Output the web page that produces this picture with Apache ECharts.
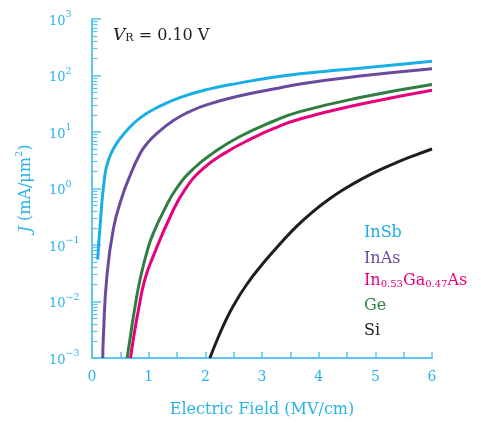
<!DOCTYPE html>
<html><head><meta charset="utf-8">
<script src="https://cdn.jsdelivr.net/npm/echarts@6/dist/echarts.min.js"></script>
<style>html,body{margin:0;padding:0;background:#fff}#c{width:481px;height:423px}</style>
</head><body><div id="c"></div>
<script>
// Data (x: Electric Field MV/cm, y: J mA/um^2)
const xInSb = [0.10, 0.12, 0.15, 0.18, 0.20, 0.23, 0.26, 0.32, 0.41, 0.59, 0.85, 1.2, 1.55, 2.02, 2.61, 3.2, 3.67, 4.73, 6.0];
const yInSb = [0.055, 0.11, 0.27, 0.66, 1.0, 1.78, 2.51, 3.8, 5.75, 10, 17.8, 28.8, 40.7, 56.2, 74.1, 93.3, 107, 135, 178];
const xInAs = [0.19, 0.20, 0.26, 0.38, 0.53, 0.65, 0.85, 1.0, 1.14, 1.43, 1.7, 2.02, 2.61, 3.2, 3.67, 4.73, 6.0];
const yInAs = [0.001, 0.0023, 0.026, 0.2, 0.71, 1.5, 4.17, 6.76, 9.33, 15.8, 22.4, 30.2, 43.7, 57.5, 70.8, 97.7, 132];
const xInGaAs = [0.68, 0.74, 0.82, 0.93, 1.08, 1.38, 1.64, 1.96, 2.35, 2.85, 3.2, 3.67, 4.73, 6.0];
const yInGaAs = [0.001, 0.0025, 0.0071, 0.024, 0.063, 0.316, 0.955, 2.24, 4.27, 7.94, 11.5, 17, 30.9, 55];
const xGe = [0.62, 0.68, 0.75, 0.85, 0.99, 1.1, 1.26, 1.49, 1.79, 2.14, 2.61, 3.2, 3.67, 4.73, 6.0];
const yGe = [0.001, 0.0025, 0.0071, 0.025, 0.089, 0.178, 0.39, 1.0, 2.24, 4.27, 8.32, 15.5, 22.9, 40.7, 69.2];
const xSi = [2.08, 2.2, 2.32, 2.49, 2.73, 3.02, 3.32, 3.61, 3.91, 4.20, 4.49, 4.79, 5.08, 5.37, 5.67, 6.0];
const ySi = [0.001, 0.002, 0.00377, 0.00824, 0.02, 0.0475, 0.105, 0.214, 0.398, 0.665, 1.03, 1.53, 2.14, 2.87, 3.78, 5.0];

const seriesNames = ['InSb', 'InAs', 'In0.53Ga0.47As', 'Ge', 'Si'];
const seriesColors = ['#1aaee6', '#6b4a9e', '#e6007e', '#2f7d3f', '#1e1e1e'];
const xTickLabels = ['0', '1', '2', '3', '4', '5', '6'];
const yDecades = [0.001, 0.01, 0.1, 1, 10, 100, 1000];
const minorMultipliers = [2, 3, 4, 5, 6, 7, 8, 9];
const axisColor = '#5cc5ee';
const labelColor = '#29b3e6';
const FONT = 'DejaVu Serif';

const xs = [xInSb, xInAs, xInGaAs, xGe, xSi];
const ys = [yInSb, yInAs, yInGaAs, yGe, ySi];

const minorValues = [];
yDecades.slice(0, -1).forEach(d => minorMultipliers.forEach(m => minorValues.push(+(d * m).toPrecision(3))));

const chart = echarts.init(document.getElementById('c'), null, {renderer: 'canvas'});

const series = seriesNames.map((n, i) => ({
  name: n, type: 'line', smooth: 0.5, showSymbol: false, clip: true,
  lineStyle: {color: seriesColors[i], width: 3},
  data: xs[i].map((x, j) => [x, ys[i][j]])
}));

function sup(v) {
  const e = Math.round(Math.log10(v));
  return '{b|10}{s|' + String(e).replace('-', '\u2212') + '}';
}

const legendY = [235, 261, 283, 308, 333];
const graphic = [
  {type: 'text', left: 113, top: 27, style: {
    text: '{i|V}{sub|R}{n| = 0.10 V}',
    rich: {
      i: {fontFamily: FONT, fontStyle: 'italic', fontSize: 17, fill: '#222', verticalAlign: 'bottom', lineHeight: 20},
      sub: {fontFamily: FONT, fontSize: 11, fill: '#222', verticalAlign: 'bottom', lineHeight: 16},
      n: {fontFamily: FONT, fontSize: 16, fill: '#222', verticalAlign: 'bottom', lineHeight: 20}
    }}}
];
seriesNames.forEach((n, i) => {
  let txt;
  if (n === 'In0.53Ga0.47As') txt = '{m|In}{s|0.53}{m|Ga}{s|0.47}{m|As}';
  else txt = '{m|' + n + '}';
  graphic.push({type: 'text', left: 364, top: legendY[i] - 10, style: {
    text: txt,
    rich: {
      m: {fontFamily: FONT, fontSize: 16, fill: seriesColors[i], verticalAlign: 'bottom', lineHeight: 20},
      s: {fontFamily: FONT, fontSize: 10, fill: seriesColors[i], verticalAlign: 'bottom', lineHeight: 17}
    }}});
});

const yCommon = {
  type: 'log', logBase: 10, min: 0.001, max: 1000, position: 'left', offset: 0,
  splitLine: {show: false}
};

chart.setOption({
  animation: false,
  grid: {left: 92, right: 49, top: 19, bottom: 62},
  xAxis: {
    type: 'value', min: 0, max: 6, interval: 1,
    axisLine: {show: true, lineStyle: {color: axisColor, width: 2}},
    axisTick: {show: true, inside: true, length: 6, lineStyle: {color: axisColor, width: 1.5}},
    minorTick: {show: true, splitNumber: 2, length: 6, lineStyle: {color: axisColor, width: 1.5}},
    splitLine: {show: false},
    axisLabel: {color: labelColor, fontFamily: FONT, fontSize: 14, margin: 12,
      formatter: v => xTickLabels[Math.round(v)] ?? ''},
    name: 'Electric Field (MV/cm)', nameLocation: 'middle', nameGap: 44,
    nameTextStyle: {color: labelColor, fontFamily: FONT, fontSize: 16}
  },
  yAxis: [Object.assign({}, yCommon, {
    axisLine: {show: true, lineStyle: {color: axisColor, width: 2}},
    axisTick: {show: true, inside: true, length: 9, lineStyle: {color: axisColor, width: 1.5}},
    minorTick: {show: false},
    axisLabel: {align: 'left', margin: 43, formatter: sup,
      rich: {
        b: {color: labelColor, fontFamily: FONT, fontSize: 13, verticalAlign: 'bottom', lineHeight: 18},
        s: {color: labelColor, fontFamily: FONT, fontSize: 9.5, verticalAlign: 'top', lineHeight: 18}
      }},
    name: '{i|J}{n| (mA/μm}{s|2}{n|)}', nameLocation: 'middle', nameGap: 58, nameRotate: 90,
    nameTextStyle: {
      rich: {
        i: {color: labelColor, fontFamily: FONT, fontStyle: 'italic', fontSize: 16, verticalAlign: 'bottom', lineHeight: 20},
        n: {color: labelColor, fontFamily: FONT, fontSize: 16, verticalAlign: 'bottom', lineHeight: 20},
        s: {color: labelColor, fontFamily: FONT, fontSize: 10, verticalAlign: 'top', lineHeight: 20}
      }}
  }), Object.assign({}, yCommon, {
    axisLine: {show: false},
    axisTick: {show: true, inside: true, length: 5.5, customValues: minorValues,
      lineStyle: {color: axisColor, width: 1.2}},
    axisLabel: {show: false},
    minorTick: {show: false}
  })],
  graphic: graphic,
  series: series
});
</script></body></html>
